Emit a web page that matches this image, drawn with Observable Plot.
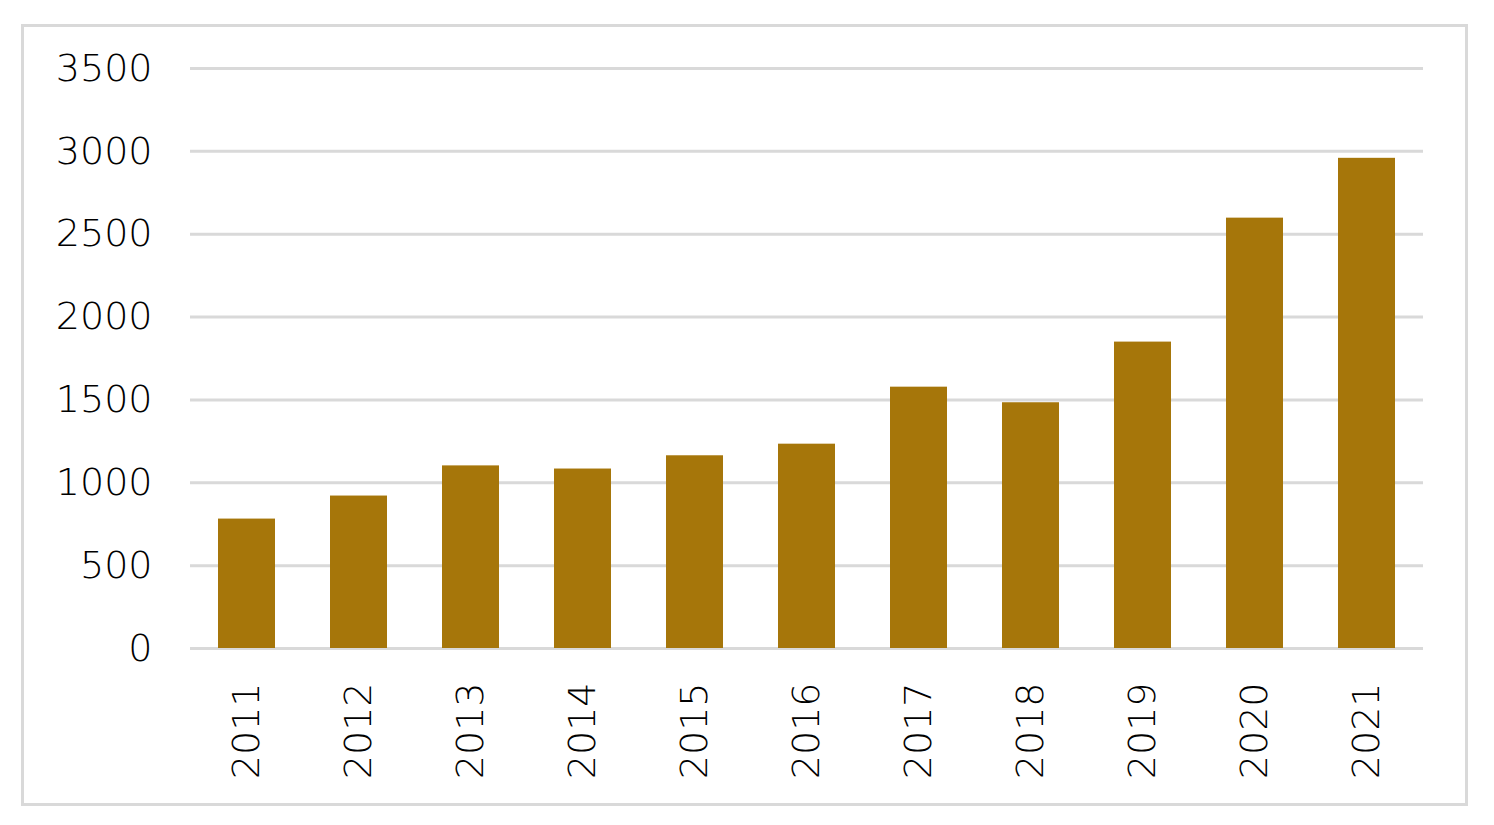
<!DOCTYPE html>
<html>
<head>
<meta charset="utf-8">
<script src="https://cdn.jsdelivr.net/npm/d3@7"></script>
<script src="https://cdn.jsdelivr.net/npm/@observablehq/plot@0.6"></script>
<style>
  html, body { margin: 0; padding: 0; background: #fff; }
  #wrap { position: relative; width: 1494px; height: 825px; overflow: hidden; }
  #border { position: absolute; left: 21px; top: 24px; width: 1441px; height: 776px; border: 3px solid #d9d9d9; pointer-events: none; }
  #chart { position: absolute; left: 0; top: 0; }
</style>
</head>
<body>
<div id="wrap"><div id="chart"></div><div id="border"></div></div>
<script>
const years = ["2011","2012","2013","2014","2015","2016","2017","2018","2019","2020","2021"];
const values = [781, 920, 1102, 1083, 1163, 1233, 1577, 1483, 1849, 2597, 2958];
const yTicks = [0, 500, 1000, 1500, 2000, 2500, 3000, 3500];

const data = years.map((y, i) => ({year: y, value: values[i]}));
const font = "'DejaVu Sans', sans-serif";

const chart = Plot.plot({
  width: 1494,
  height: 825,
  marginLeft: 190,
  marginRight: 71,
  marginTop: 68,
  marginBottom: 177,
  style: {fontFamily: font, background: "transparent", color: "#000"},
  x: {domain: years, paddingInner: 0.49, paddingOuter: 0.245, label: null},
  y: {domain: [0, 3500], label: null},
  marks: [
    Plot.gridY(yTicks, {stroke: "#d9d9d9", strokeWidth: 3, strokeOpacity: 1}),
    Plot.barY(data, {x: "year", y: "value", fill: "#a6760a"}),
    Plot.axisY(yTicks, {tickSize: 0, tickPadding: 38, fontSize: 38, fontWeight: 200, tickFormat: d => String(d), fill: "#000", label: null}),
    Plot.axisX({tickSize: 0, tickPadding: 34, tickRotate: -90, fontSize: 38, fontWeight: 200, fill: "#000", label: null})
  ]
});
document.getElementById("chart").appendChild(chart);
</script>
</body>
</html>
